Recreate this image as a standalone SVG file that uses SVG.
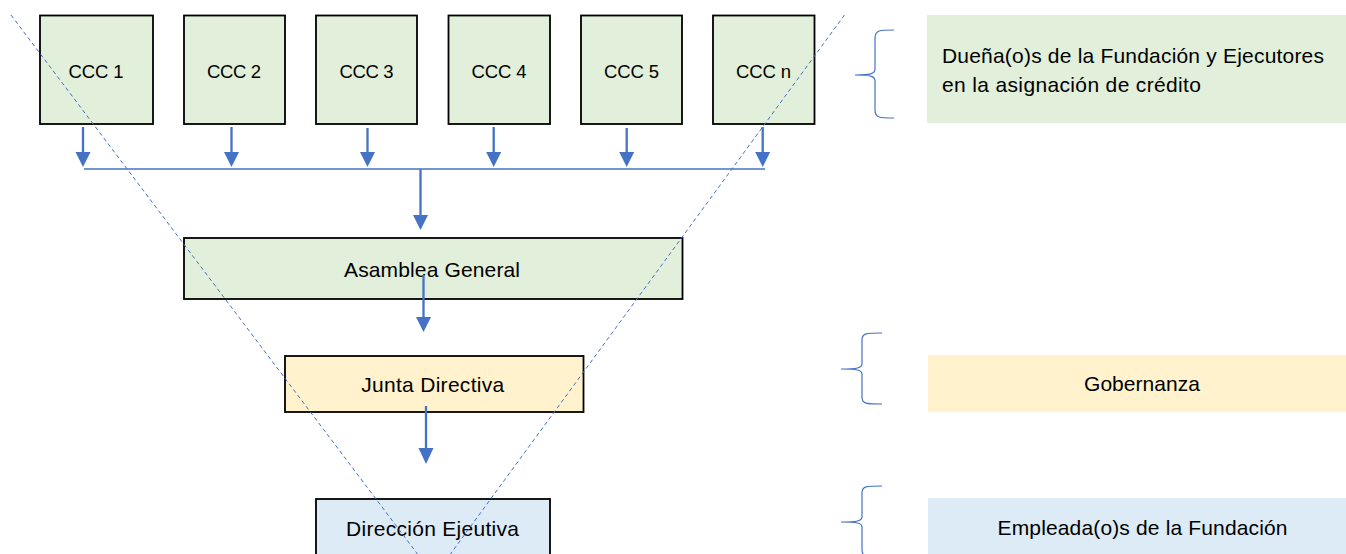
<svg xmlns="http://www.w3.org/2000/svg" width="1346" height="554" viewBox="0 0 1346 554">
<style>
.box{stroke:#000;stroke-width:1.8}
.g{fill:#E2EFDA}.y{fill:#FFF2CC}.b{fill:#DDEBF7}
text{font-family:"Liberation Sans",Arial,sans-serif;font-size:21px;fill:#000}
.s{font-size:18.5px}
.c{text-anchor:middle}
.arrow{stroke:#4472C4;stroke-width:2.3;fill:none}
.thin{stroke:#4472C4;stroke-width:1.3;fill:none}
.dash{stroke:#4472C4;stroke-width:1;stroke-dasharray:4 3;fill:none}
.brace{stroke:#4472C4;stroke-width:1.2;fill:none}
.head{fill:#4472C4}
</style>
<g id="labels">
<rect class="g" x="927" y="15" width="419" height="108"/>
<text x="942" y="63" textLength="382">Dueña(o)s de la Fundación y Ejecutores</text>
<text x="942" y="92" textLength="259">en la asignación de crédito</text>
<rect class="y" x="928" y="355" width="418" height="57"/>
<text class="c" x="1142" y="391" textLength="116">Gobernanza</text>
<rect class="b" x="928" y="498" width="418" height="60"/>
<text class="c" x="1142.5" y="535" textLength="290">Empleada(o)s de la Fundación</text>
</g>
<g id="braces">
<path class="brace" d="M894,30 C880,30 875,30 875,38 L875,69 C875,74 870,75 855,75 C870,75 875,76 875,81 L875,110 C875,118 880,118 894,118"/>
<path class="brace" d="M882,333 C866,333 862,333 862,340 L862,364 C862,368 857,369 841,369 C857,369 862,370 862,374 L862,397 C862,404 866,404 882,404"/>
<path class="brace" d="M882,486 C866,486 862,486 862,493 L862,517 C862,521 857,522 841,522 C857,522 862,523 862,527 L862,550 C862,557 866,557 882,557"/>
</g>
<g id="ccc1"><rect class="box g" x="40" y="15.5" width="113" height="108.5"/><text class="c s" x="96" y="78" textLength="55">CCC 1</text></g>
<g id="ccc2"><rect class="box g" x="184" y="15.5" width="101" height="108.5"/><text class="c s" x="234" y="78" textLength="54">CCC 2</text></g>
<g id="ccc3"><rect class="box g" x="316" y="15.5" width="101" height="108.5"/><text class="c s" x="366.5" y="78" textLength="54">CCC 3</text></g>
<g id="ccc4"><rect class="box g" x="448.5" y="15.5" width="101.5" height="108.5"/><text class="c s" x="499" y="78" textLength="55">CCC 4</text></g>
<g id="ccc5"><rect class="box g" x="581" y="15.5" width="101" height="108.5"/><text class="c s" x="631.5" y="78" textLength="55">CCC 5</text></g>
<g id="cccn"><rect class="box g" x="713" y="15.5" width="101.5" height="108.5"/><text class="c s" x="763.5" y="78" textLength="55">CCC n</text></g>
<g id="asamblea"><rect class="box g" x="184" y="238" width="498.5" height="61"/><text class="c" x="432" y="277" textLength="176">Asamblea General</text></g>
<g id="junta"><rect class="box y" x="285" y="356" width="298.5" height="56"/><text class="c" x="432.7" y="391.5" textLength="143">Junta Directiva</text></g>
<g id="direccion"><rect class="box b" x="316" y="499" width="234" height="60"/><text class="c" x="432.5" y="535.5" textLength="173">Dirección Ejeutiva</text></g>
<g id="connectors">
<line class="thin" x1="84" y1="169" x2="765" y2="169"/>
<line class="arrow" x1="83" y1="127" x2="83" y2="153"/><polygon class="head" points="75.5,152 90.5,152 83,167"/>
<line class="arrow" x1="231.5" y1="127" x2="231.5" y2="153"/><polygon class="head" points="224,152 239,152 231.5,167"/>
<line class="arrow" x1="367.5" y1="128" x2="367.5" y2="153"/><polygon class="head" points="360,152 375,152 367.5,167"/>
<line class="arrow" x1="493.7" y1="127" x2="493.7" y2="153"/><polygon class="head" points="486.2,152 501.2,152 493.7,167"/>
<line class="arrow" x1="626.7" y1="128" x2="626.7" y2="153"/><polygon class="head" points="619.2,152 634.2,152 626.7,167"/>
<line class="arrow" x1="762.7" y1="127" x2="762.7" y2="153"/><polygon class="head" points="755.2,152 770.2,152 762.7,167"/>
<line class="arrow" x1="420.5" y1="169" x2="420.5" y2="216"/><polygon class="head" points="413,215 428,215 420.5,230"/>
<line class="arrow" x1="423.5" y1="275" x2="423.5" y2="318"/><polygon class="head" points="416,317 431,317 423.5,332"/>
<line class="arrow" x1="426" y1="406" x2="426" y2="449"/><polygon class="head" points="418.5,448 433.5,448 426,464"/>
<line class="dash" x1="11" y1="15" x2="419" y2="556"/>
<line class="dash" x1="844.5" y1="15" x2="449" y2="556"/>
</g>
</svg>
